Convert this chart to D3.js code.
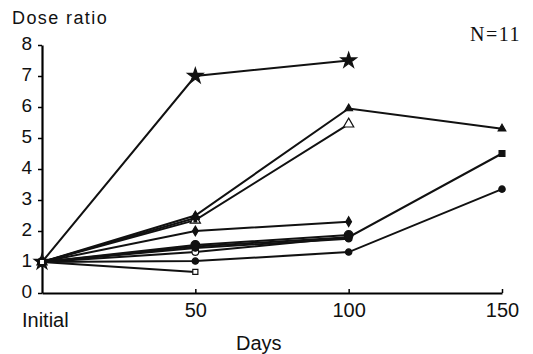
<!DOCTYPE html>
<html>
<head>
<meta charset="utf-8">
<script src="https://cdn.jsdelivr.net/npm/d3@7"></script>
<style>
  body { margin: 0; background: #fff; }
  svg text { font-family: "Liberation Sans", Arial, sans-serif; fill: #111; }
</style>
</head>
<body>
<div id="chart"></div>
<script>
// Dose ratio over time, one line per patient (N=11)
const days = [0, 50, 100, 150];
const xTickLabels = ['Initial', '50', '100', '150'];
const yTicks = [0, 1, 2, 3, 4, 5, 6, 7, 8];

// each series: marker type + values at the days above (shorter = stopped)
const starVals = [1, 7.0, 7.5];
const triFilledVals = [1, 2.5, 5.95, 5.3];
const triOpenVals = [1, 2.35, 5.45];
const crossVals = [1, 2.42];
const diamondVals = [1, 2.0, 2.3];
const squareFilledVals = [1, 1.5, 1.8, 4.5];
const circleOpenVals = [1, 1.32, 1.8];
const dotVals = [1, 1.45, 1.75];
const bigDotVals = [1, 1.55, 1.87];
const lowDotVals = [1, 1.03, 1.32, 3.35];
const squareOpenVals = [1, 0.68];

const series = [
  { sym: 'star', values: starVals },
  { sym: 'triangle', values: triFilledVals },
  { sym: 'triangleOpen', values: triOpenVals },
  { sym: 'cross', values: crossVals },
  { sym: 'diamond', values: diamondVals },
  { sym: 'circleOpen', values: circleOpenVals },
  { sym: 'square', values: squareFilledVals },
  { sym: 'dot', values: dotVals },
  { sym: 'bigDot', values: bigDotVals },
  { sym: 'dot', values: lowDotVals },
  { sym: 'squareOpen', values: squareOpenVals }
];

const width = 533, height = 354;
const svg = d3.select('#chart').append('svg')
  .attr('width', width)
  .attr('height', height);

const x = d3.scaleLinear().domain([0, 150]).range([42, 502]);
const y = d3.scaleLinear().domain([0, 8]).range([293, 45]);

// axes
const yAxis = svg.append('g')
  .attr('transform', `translate(${x(0)},0)`)
  .call(d3.axisLeft(y).tickValues(yTicks).tickSize(4).tickPadding(6).tickSizeOuter(0));
yAxis.select('.domain').attr('stroke-width', 2.2);
yAxis.selectAll('.tick line').attr('stroke-width', 1.5);
yAxis.selectAll('text').style('font-size', '19px').attr('dy', '0.25em');

const xAxis = svg.append('g')
  .attr('transform', `translate(0,${y(0)})`)
  .call(d3.axisBottom(x).tickValues([50, 100, 150]).tickSize(-4).tickPadding(10).tickSizeOuter(0));
xAxis.select('.domain').attr('stroke-width', 2.2);
xAxis.selectAll('.tick line').attr('stroke-width', 1.5);
xAxis.selectAll('text').style('font-size', '20px');

svg.append('text')
  .attr('x', 22).attr('y', 327)
  .style('font-size', '20px')
  .text(xTickLabels[0]);

svg.append('text')
  .attr('x', 236).attr('y', 350)
  .style('font-size', '20px')
  .text('Days');

svg.append('text')
  .attr('x', 12).attr('y', 24)
  .style('font-size', '18px')
  .style('letter-spacing', '1.4px')
  .text('Dose ratio');

svg.append('text')
  .attr('x', 470).attr('y', 41)
  .style('font-family', '"Liberation Serif", "Times New Roman", serif')
  .style('font-size', '20px')
  .style('letter-spacing', '1.5px')
  .text('N=11');

// lines
const line = d3.line()
  .x((d, i) => x(days[i]))
  .y(d => y(d));

svg.append('g')
  .selectAll('path')
  .data(series)
  .join('path')
  .attr('d', d => line(d.values))
  .attr('fill', 'none')
  .attr('stroke', '#111')
  .attr('stroke-width', 2);

// markers
const symMap = {
  star: { type: d3.symbolStar, size: 75, fill: '#111' },
  triangle: { type: d3.symbolTriangle, size: 25, fill: '#111' },
  triangleOpen: { type: d3.symbolTriangle, size: 45, fill: '#fff' },
  cross: { type: d3.symbolCross, size: 35, fill: '#111' },
  diamond: { type: d3.symbolDiamond, size: 28, fill: '#111' },
  square: { type: d3.symbolSquare, size: 34, fill: '#111' },
  bigDot: { type: d3.symbolCircle, size: 60, fill: '#111' },
  dot: { type: d3.symbolCircle, size: 32, fill: '#111' },
  circleOpen: { type: d3.symbolCircle, size: 35, fill: '#fff' },
  squareOpen: { type: d3.symbolSquare, size: 26, fill: '#fff' }
};

const pts = [];
series.forEach(s => s.values.forEach((v, i) => pts.push({ sym: s.sym, day: days[i], v })));

svg.append('g')
  .selectAll('path')
  .data(pts)
  .join('path')
  .attr('transform', d => `translate(${x(d.day)},${y(d.v)})`)
  .attr('d', d => d3.symbol(symMap[d.sym].type, symMap[d.sym].size)())
  .attr('fill', d => symMap[d.sym].fill)
  .attr('stroke', '#111')
  .attr('stroke-width', 1.2);
</script>
</body>
</html>
